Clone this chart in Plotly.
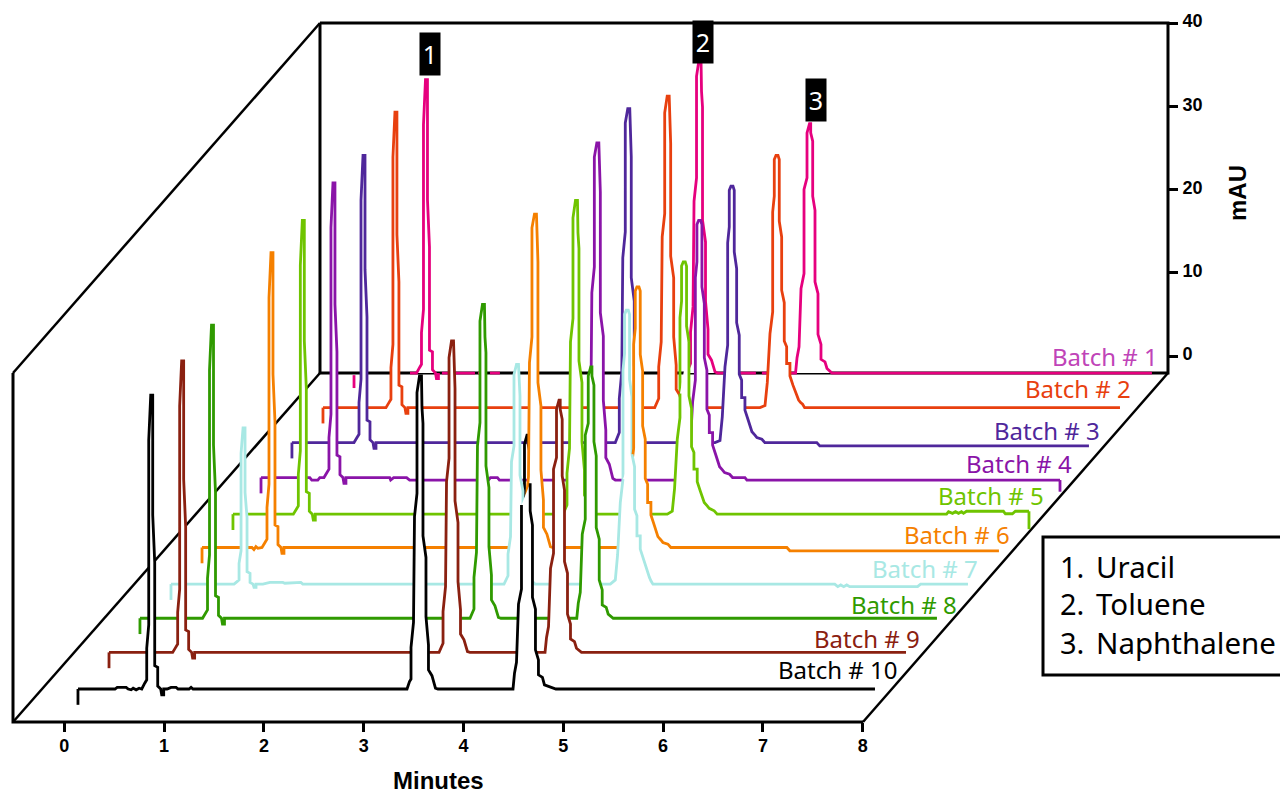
import plotly.graph_objects as go

N = None
# Each batch: minutes and mAU (None = hidden stretch of the trace)
batch_1_minutes = [.113,.113,N,.674,.739,.769,.789,.789,.809,.809,.829,.849,.849,.869,.869,.899,.899,.929,.939,.959,.959,N,.994,1.325,N,1.355,1.435,N,1.475,1.575,N,
 3.445,3.47,3.485,3.485,3.51,3.52,3.545,3.545,3.57,3.59,3.595,3.605,3.605,3.635,3.635,3.66,3.66,3.695,3.73,3.755,3.83,N,3.98,4.14,N,4.20,4.25,N,4.45,
 4.537,4.552,4.572,4.592,4.622,4.622,4.652,4.652,4.677,4.689,4.689,4.709,4.709,4.732,4.732,4.762,4.762,4.792,4.792,4.832,4.852,4.902,8.108]
batch_1_mau = [-3.85,-2.3,N,-2.05,-2.05,-1.4,-1,2.8,5.6,27.8,33.2,33.2,18.8,13.1,.7,.5,-1.65,-2.05,-2.7,-2.7,-2.05,N,-2.05,-2.05,N,-2.05,-2.05,N,-2.05,-2.05,N,
 -2.05,-1.25,-.9,2.9,5.9,18.6,21.4,33.6,35.6,35.6,31.8,29.9,16.3,13.7,6.6,3.2,.2,-.5,-1.9,-2.05,-2.05,N,-2.05,-2.05,N,-2.05,-2.05,N,-2.05,
 -2.05,-.2,1.1,8.1,9.9,20,21.4,26.8,27.9,27.9,26.8,25.8,19.2,17.5,8.9,7.5,2.6,1.4,-.4,-.7,-1.5,-2.05,-2.05]

batch_2_minutes = [.112,.112,N,.112,.743,.773,.793,.793,.813,.813,.833,.853,.853,.873,.873,.903,.903,.933,.943,.963,.963,
 3.436,3.461,3.476,3.476,3.501,3.511,3.536,3.536,3.561,3.581,3.586,3.596,3.596,3.626,3.626,3.651,3.651,3.686,3.721,3.746,
 4.491,4.541,4.564,4.591,4.618,4.618,4.634,4.634,4.651,4.671,4.684,4.684,4.708,4.708,4.734,4.734,4.758,4.758,4.791,4.791,4.821,4.841,4.861,4.878,4.898,4.918,4.938,8.098]
batch_2_mau = [-3.9,-2,N,-2,-2,-1.4,-1,2.8,5.6,28.1,33.5,33.5,18.8,13.1,.7,.5,-1.65,-2,-2.7,-2.7,-2,
 -2,-1.25,-.9,2.9,5.9,18.5,21.3,33.4,35.4,35.4,31.6,29.7,16.2,13.6,6.5,3.1,.2,-.5,-1.9,-2,
 -2,-1.75,1,6.9,9.5,21.5,23.4,27.8,28.3,28.3,27.8,20.4,18.5,12.1,10.6,6,5.3,3.3,3.3,1.8,.7,.1,-.7,-1.1,-1.4,-1.6,-2,-2]

batch_3_minutes = [.111,.111,N,.111,.733,.763,.783,.783,.803,.803,.823,.843,.843,.863,.863,.893,.893,.923,.933,.953,.953,
 3.351,3.376,3.391,3.391,3.416,3.426,3.451,3.451,3.476,3.496,3.501,3.511,3.511,3.541,3.541,3.566,3.566,3.601,3.636,3.661,
 4.35,4.40,4.423,4.45,4.477,4.477,4.493,4.493,4.51,4.53,4.543,4.543,4.567,4.567,4.593,4.593,4.617,4.617,4.65,4.65,4.68,4.70,4.72,4.75,4.77,4.82,4.85,5.37,5.40,8.097]
batch_3_mau = [-3.9,-2,N,-2,-2,-1.4,-1,2.8,5.6,27.1,32.5,32.5,18.8,13.1,.7,.5,-1.65,-2,-2.7,-2.7,-2,
 -2,-1.2,-.8,3.3,6.5,20.2,23.3,36.4,38.1,38.1,34.4,32.3,17.8,15,7.3,3.7,.4,-.4,-1.9,-2,
 -2,-1.75,1.1,7.1,9.7,22,23.9,28.3,28.8,28.8,28.3,20.9,18.9,12.4,10.9,6.2,5.5,3.4,3.4,1.9,.8,.15,-.7,-1.1,-1.4,-1.6,-2,-2,-2.4,-2.4]

batch_4_minutes = [.111,.111,N,.111,.60,.62,.68,.70,.742,.772,.792,.792,.812,.812,.832,.852,.852,.872,.872,.902,.902,.932,.942,.962,.962,1.40,1.41,1.44,1.57,1.6,2.39,2.41,2.48,2.50,
 3.351,3.376,3.391,3.391,3.416,3.426,3.451,3.451,3.476,3.496,3.501,3.511,3.511,3.541,3.541,3.566,3.566,3.601,3.636,3.661,
 4.336,4.386,4.409,4.436,4.463,4.463,4.479,4.479,4.496,4.516,4.529,4.529,4.553,4.553,4.579,4.579,4.603,4.603,4.636,4.636,4.666,4.686,4.706,4.736,4.756,4.806,4.836,4.96,4.98,8.117,N,8.117,8.117]
batch_4_mau = [-3.9,-2,N,-2,-2,-2.3,-2.3,-2,-2,-1.4,-1,2.8,5.6,28,33.4,33.4,18.8,13.1,.7,.5,-1.65,-2,-2.7,-2.7,-2,-2,-2.3,-2,-2,-2.3,-2.3,-2,-2,-2.3,
 -2.3,-1.4,-1,3.2,6.4,20.2,23.3,36.5,38.2,38.2,34.4,32.3,17.8,15,7.3,3.7,.4,-.4,-2.1,-2.3,
 -2.3,-1.75,1.1,7.1,9.7,22,23.9,28.4,28.9,28.9,28.4,20.9,18.9,12.4,10.9,6.2,5.5,3.4,3.4,1.9,.8,.15,-.7,-1.1,-1.4,-1.6,-2,-2,-2.3,-2.3,N,-2.3,-3.7]

batch_5_minutes = [.14,.14,N,.14,.745,.775,.795,.795,.815,.815,.835,.855,.855,.875,.875,.905,.905,.935,.945,.965,.965,
 3.447,3.472,3.487,3.487,3.512,3.522,3.547,3.547,3.572,3.592,3.597,3.607,3.607,3.637,3.637,3.662,3.662,3.697,3.732,3.757,
 4.492,4.542,4.565,4.592,4.619,4.619,N,4.709,4.709,4.735,4.735,4.759,4.759,4.792,4.792,4.822,4.842,4.862,4.892,4.912,4.962,4.992,
 7.29,7.31,7.35,7.38,7.41,7.44,7.46,7.49,7.86,7.88,7.95,7.98,8.116,N,8.116,8.116]
batch_5_mau = [-4.1,-2.2,N,-2.2,-2.2,-1.6,-1.2,2.6,5.4,27.7,33.1,33.1,18.6,12.9,.5,.3,-1.85,-2.2,-2.9,-2.9,-2.2,
 -2.2,-1.4,-1.1,2.7,5.7,18.5,21.3,33.4,35.5,35.5,31.6,29.7,16.2,13.6,6.5,3.1,.1,-.6,-2.1,-2.2,
 -2.2,-1.85,.9,6.8,9.4,12.3,N,18.5,12,10.5,5.9,5.2,3.2,3.2,1.7,.6,0,-.8,-1.2,-1.5,-1.8,-2.2,
 -2.2,-1.9,-2.1,-1.9,-2.1,-1.9,-2.1,-1.85,-1.85,-2.15,-2.15,-1.85,-1.85,N,-1.85,-4]
batch_5_cap_minutes = [4.619,4.619,4.635,4.635,4.652,4.672,4.685,4.685,4.709]
batch_5_cap_mau = [12.3,21.4,23.4,27.6,28.1,28.1,27.6,20.4,18.5]

batch_6_minutes = [.14,.14,N,.14,.64,.66,.68,.70,.741,.771,.791,.791,.811,.811,.831,.851,.851,.871,.871,.901,.901,.931,.941,.961,.961,
 3.346,3.371,3.386,3.386,3.411,3.421,3.446,3.446,3.471,3.491,3.496,3.506,3.506,3.536,3.536,3.561,3.561,3.596,3.631,3.656,
 4.338,4.388,4.411,4.438,4.465,4.465,4.481,4.481,4.498,4.518,4.531,4.531,4.555,4.555,4.581,4.581,4.605,4.605,4.638,4.638,4.668,4.688,4.708,4.738,4.758,4.808,4.838,6.0,6.03,8.125]
batch_6_mau = [-3.9,-2,N,-2,-2,-2.25,-1.9,-2.1,-2,-1.4,-1,2.8,5.6,28,33.4,33.4,18.8,13.1,.7,.5,-1.65,-2,-2.7,-2.7,-2,
 -2,-1.2,-.8,3.3,6.5,20.2,23.3,36.4,38.05,38.05,34.4,32.3,17.8,15,7.3,3.7,.4,-.4,-1.9,-2,
 -2,-1.75,1.1,7.2,9.9,22.4,24.3,28.8,29.3,29.3,28.8,21.2,19.2,12.6,11,6.3,5.6,3.4,3.4,1.9,.8,.15,-.7,-1.1,-1.4,-1.6,-2,-2,-2.4,-2.4]

batch_7_minutes = [.139,.139,N,.139,.771,.801,.821,.821,.841,.841,.861,.881,.881,.901,.901,.931,.931,.961,.971,.991,.991,1.06,1.13,1.26,1.28,1.44,1.46,
 3.476,3.501,3.516,3.516,3.541,3.551,3.576,3.576,3.601,3.621,3.626,3.636,3.636,3.666,3.666,3.691,3.691,3.726,3.761,3.786,
 4.541,4.591,4.614,4.641,4.668,N,4.758,4.784,4.784,4.808,4.808,4.841,4.841,4.871,4.891,4.911,4.918,4.933,4.948,4.968,
 6.79,6.82,6.85,6.88,6.91,6.94,7.62,7.65,8.125]
batch_7_mau = [-4.1,-2.2,N,-2.2,-2.2,-1.9,-1.7,.3,1.8,13.5,16.55,16.55,8.8,5.8,-.7,-.9,-2,-2.2,-2.6,-2.6,-2.2,-2.2,-2,-2,-2.1,-2,-2.2,
 -2.2,-1.5,-1.2,1.4,3.5,12.5,14.4,23,24.2,24.2,21.7,20.4,10.9,9,4,1.7,-.4,-.95,-1.9,-2.2,
 -2.2,-1.7,1.3,7.6,10.4,N,13.4,11.9,6.8,6,3.6,3.6,2,.8,.2,-.7,-1.1,-1.4,-1.8,-2.2,
 -2.2,-2.5,-2.3,-2.5,-2.3,-2.5,-2.5,-2.2,-2.2]
batch_7_cap_minutes = [4.668,4.668,4.684,4.684,4.701,4.721,4.734,4.734,4.758,4.758]
batch_7_cap_mau = [10.4,23.5,25.5,30.2,30.7,30.7,30.2,22.4,20.3,13.4]

batch_8_minutes = [.138,.138,N,.138,.765,.795,.815,.815,.835,.835,.855,.875,.875,.895,.895,.925,.925,.955,.965,.985,.985,
 3.445,3.47,3.485,3.485,3.51,3.52,3.545,3.545,3.57,3.59,3.595,3.605,3.605,3.635,3.635,3.66,3.66,3.695,3.73,3.755,
 4.515,4.53,4.55,4.57,4.60,4.60,4.63,4.63,4.655,4.667,4.667,4.687,4.687,4.71,4.71,4.74,4.74,4.77,4.77,4.81,4.83,4.88,8.124]
batch_8_mau = [-4,-2.1,N,-2.1,-2.1,-1.5,-1.1,2.7,5.5,27.7,33.1,33.1,18.7,13,.6,.4,-1.75,-2.1,-2.8,-2.8,-2.1,
 -2.1,-1.3,-1,2.8,5.8,18.6,21.4,33.6,35.6,35.6,31.7,29.8,16.2,13.6,6.5,3.1,.1,-.6,-2,-2.1,
 -2.1,-.3,1,8,9.8,19.9,21.3,27,28.1,28.1,27,25.9,19.1,17.4,8.8,7.4,2.5,1.3,-.5,-.8,-1.6,-2.1,-2.1]

batch_9_minutes = [.138,.138,N,.138,.776,.806,.826,.826,.846,.846,.866,.886,.886,.906,.906,.936,.936,.966,.976,.996,.996,
 3.445,3.47,3.485,3.485,3.51,3.52,3.545,3.545,3.57,3.59,3.595,3.605,3.605,3.635,3.635,3.66,3.66,3.695,3.73,3.755,
 4.507,4.522,4.542,4.562,4.592,4.592,4.622,4.622,4.647,4.659,4.659,4.679,4.679,4.702,4.702,4.732,4.732,4.762,4.762,4.802,4.822,4.872,8.124]
batch_9_mau = [-3.9,-2,N,-2,-2,-1.4,-1,2.8,5.6,27.6,33,33,18.8,13.1,.7,.5,-1.65,-2,-2.7,-2.7,-2,
 -2,-1.25,-.9,2.9,5.9,18.5,21.3,33.4,35.4,35.4,31.6,29.7,16.2,13.6,6.5,3.1,.2,-.5,-1.9,-2,
 -2,-.2,1.1,8.1,9.9,20,21.4,27.2,28.3,28.3,27.2,26,19.2,17.5,8.9,7.5,2.6,1.4,-.4,-.7,-1.5,-2,-2]

batch_10_minutes = [.137,.137,N,.137,.508,.53,.62,.64,.67,.69,.72,.75,.776,.806,.826,.826,.846,.846,.866,.886,.886,.906,.906,.936,.936,.966,.976,.996,.996,1.03,1.07,1.12,1.14,1.25,1.27,1.29,
 3.434,3.459,3.474,3.474,3.499,3.509,3.534,3.534,3.559,3.579,3.584,3.594,3.594,3.624,3.624,3.649,3.649,3.684,3.719,3.744,
 4.496,4.511,4.531,4.551,4.581,4.581,N,4.668,4.668,4.691,4.691,4.721,4.721,4.751,4.751,4.791,4.811,4.926,8.123]
batch_10_mau = [-4.1,-2.2,N,-2.2,-2.2,-2,-2,-2.2,-2.3,-2.1,-2.3,-2.1,-2.2,-1.5,-1.1,2.7,5.5,27.7,33.1,33.1,18.7,13,.6,.4,-1.85,-2.2,-2.9,-2.9,-2.2,-2.2,-2,-2,-2.2,-2.2,-2,-2.2,
 -2.2,-1.3,-1,2.8,5.8,18.5,21.3,33.4,35.4,35.4,31.6,29.7,16.2,13.6,6.5,3.1,.1,-.6,-2.1,-2.2,
 -2.2,-.3,1,8,9.8,19.9,N,22.5,19.2,17.5,8.8,7.4,2.5,1.3,-.5,-.8,-1.7,-2.2,-2.2]
batch_10_cap_minutes = [4.581,4.611,4.611,4.636,4.648,4.648,4.668,4.668]
batch_10_cap_mau = [19.9,21.3,27.2,28.3,28.3,27.2,26,22.5]

batch_minutes = [batch_1_minutes,batch_2_minutes,batch_3_minutes,batch_4_minutes,batch_5_minutes,
                 batch_6_minutes,batch_7_minutes,batch_8_minutes,batch_9_minutes,batch_10_minutes]
batch_mau = [batch_1_mau,batch_2_mau,batch_3_mau,batch_4_mau,batch_5_mau,
             batch_6_mau,batch_7_mau,batch_8_mau,batch_9_mau,batch_10_mau]
batch_names = ["Batch # 1","Batch # 2","Batch # 3","Batch # 4","Batch # 5",
               "Batch # 6","Batch # 7","Batch # 8","Batch # 9","Batch # 10"]
line_colors = ["#e6007e","#e8400f","#4f279b","#8a14a8","#6fc400","#f58000","#a8e8e4","#2f9a00","#8a2010","#000000"]
label_colors = ["#c044b8","#e8400f","#4f279b","#8a14a8","#6fc400","#f58000","#a8e8e4","#2f9a00","#8a2010","#000000"]
label_right = [1160,1133,1102,1074,1046,1012,980,959,922,900]
label_mid = [356.5,388.5,430.5,463.5,495.5,534.5,568.5,604.5,638.5,669.5]
x_ticks = [0,1,2,3,4,5,6,7,8]
y_ticks = [0,10,20,30,40]
peak_names = ["Uracil","Toluene","Naphthalene"]
peak_numbers = ["1","2","3"]

# waterfall stagger between successive batches
step_minutes = 0.31
step_mau = 4.2
# perspective box, in display minutes / mAU
box_x = [-.514, 2.562, 8.003, 11.059]
box_y = [-43.96, -2.04, 40.0]

W, H = 1280, 795
px_per_min, x0_px = 99.8, 64.3
px_per_mau, y0_px = 8.325, 356.0
LINE_W = 2.8

def X(p): return p / W
def Y(p): return 1 - p / H

fig = go.Figure()

def frame(xs, ys, w=3):
    fig.add_trace(go.Scatter(x=xs, y=ys, mode="lines", line=dict(color="black", width=w),
                             hoverinfo="skip", showlegend=False))

frame([box_x[1], box_x[3], box_x[3], box_x[1], box_x[1]], [box_y[2], box_y[2], box_y[1], box_y[1], box_y[2]])
frame([box_x[0], box_x[1]], [box_y[1], box_y[2]], 2.5)
frame([box_x[0], box_x[0], box_x[2]], [box_y[1], box_y[0], box_y[0]])
frame([box_x[0], box_x[1]], [box_y[0], box_y[1]], 2.5)
frame([box_x[2], box_x[3]], [box_y[0], box_y[1]], 2.5)

def shifted(k, mins, maus):
    sx = (9 - k) * step_minutes
    sy = k * step_mau
    return ([None if v is None else v + sx for v in mins],
            [None if v is None else v - sy for v in maus])

def draw_cap(k, mins, maus):
    xs, ys = shifted(k, mins, maus)
    fig.add_trace(go.Scatter(x=xs, y=ys, mode="lines", line=dict(color=line_colors[k], width=LINE_W),
                             hoverinfo="skip", showlegend=False))

# batches whose fill has to bridge the split around a peak cap: slice of the arrays that makes one outline
bridged = {4: (3, -3), 6: (3, None), 9: (3, None)}

def draw_batch(k):
    xs, ys = shifted(k, batch_minutes[k], batch_mau[k])
    if k in bridged:
        a, b = bridged[k]
        fx = [v for v in xs[a:b] if v is not None]
        fy = [v for v in ys[a:b] if v is not None]
        fig.add_trace(go.Scatter(x=fx, y=fy, mode="none", fill="toself", fillcolor="white",
                                 hoverinfo="skip", showlegend=False))
        fig.add_trace(go.Scatter(x=xs, y=ys, mode="lines", name=batch_names[k],
                                 line=dict(color=line_colors[k], width=LINE_W),
                                 hoverinfo="skip", showlegend=False))
    else:
        fig.add_trace(go.Scatter(x=xs, y=ys, mode="lines", name=batch_names[k], fill="toself",
                                 fillcolor="white", line=dict(color=line_colors[k], width=LINE_W),
                                 connectgaps=False, hoverinfo="skip", showlegend=False))

draw_batch(0)
draw_cap(4, batch_5_cap_minutes, batch_5_cap_mau)
draw_batch(1); draw_batch(2); draw_batch(3); draw_batch(4)
draw_cap(9, batch_10_cap_minutes, batch_10_cap_mau)
draw_cap(6, batch_7_cap_minutes, batch_7_cap_mau)
draw_batch(5); draw_batch(6); draw_batch(7); draw_batch(8); draw_batch(9)

ann = []
for k in range(10):
    ann.append(dict(xref="paper", yref="paper", x=X(label_right[k]), y=Y(label_mid[k]), text=batch_names[k],
                    showarrow=False, xanchor="right", yanchor="middle",
                    font=dict(family="Noto Sans", size=24, color=label_colors[k])))

for txt, cx, cy in zip(peak_numbers, [430, 702.5, 815.5], [54, 42, 100]):
    ann.append(dict(xref="paper", yref="paper", x=X(cx), y=Y(cy), text=txt, showarrow=False,
                    xanchor="center", yanchor="middle", width=20, height=42, bgcolor="black",
                    borderpad=0, font=dict(family="Noto Sans", size=25, color="white")))

for i, cy in enumerate([566, 603, 642]):
    ann.append(dict(xref="paper", yref="paper", x=X(1058), y=Y(cy), text=peak_numbers[i] + ".",
                    showarrow=False, xanchor="left", yanchor="middle",
                    font=dict(family="Noto Sans", size=29, color="black")))
    ann.append(dict(xref="paper", yref="paper", x=X(1094), y=Y(cy), text=peak_names[i],
                    showarrow=False, xanchor="left", yanchor="middle",
                    font=dict(family="Noto Sans", size=29.5, color="black")))

ann.append(dict(xref="paper", yref="paper", x=X(438), y=Y(780.5), text="<b>Minutes</b>", showarrow=False,
                xanchor="center", yanchor="middle", borderpad=0,
                font=dict(family="Liberation Sans", size=24, color="black")))
ann.append(dict(xref="paper", yref="paper", x=X(1238), y=Y(193), text="<b>mAU</b>", showarrow=False, textangle=-90,
                xanchor="center", yanchor="middle", font=dict(family="Liberation Sans", size=24, color="black")))

tick_font = dict(family="Liberation Sans", size=18, color="black", weight="bold")
fig.update_layout(
    width=W, height=H, margin=dict(l=0, r=0, t=0, b=0, pad=0),
    paper_bgcolor="white", plot_bgcolor="white", showlegend=False, annotations=ann,
    shapes=[dict(type="rect", xref="paper", yref="paper", x0=X(1043), x1=X(1290), y0=Y(537), y1=Y(675),
                 line=dict(color="black", width=3), fillcolor="rgba(0,0,0,0)")],
    xaxis=dict(range=[-x0_px / px_per_min, (W - x0_px) / px_per_min], anchor="free", position=Y(722),
               tickvals=x_ticks, ticks="outside", ticklen=9, tickwidth=3, tickcolor="black",
               showgrid=False, zeroline=False, showline=False, tickfont=tick_font, ticklabelstandoff=-2),
    yaxis=dict(range=[(y0_px - H) / px_per_mau, y0_px / px_per_mau], anchor="free", position=X(1168), side="right",
               tickvals=y_ticks, ticks="outside", ticklen=9, tickwidth=3, tickcolor="black",
               showgrid=False, zeroline=False, showline=False, tickfont=tick_font, ticklabelshift=-2, ticklabelstandoff=1),
)

fig.write_html("out.html", config={"displayModeBar": False},
               post_script="document.body.style.margin='0';document.body.style.overflow='hidden';")
